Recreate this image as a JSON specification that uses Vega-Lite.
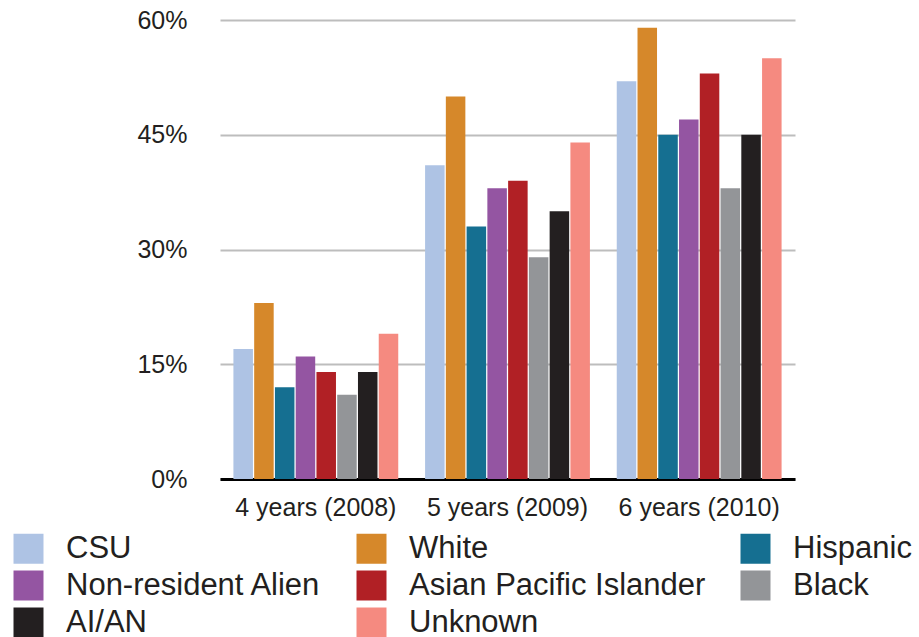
{
  "$schema": "https://vega.github.io/schema/vega-lite/v6.json",
  "width": 575,
  "height": 459,
  "autosize": {"type": "none"},
  "padding": {"left": 220, "top": 20, "right": 124, "bottom": 158},
  "background": "white",
  "config": {
    "view": {"stroke": null},
    "font": "Liberation Sans",
    "text": {"font": "Liberation Sans"}
  },
  "data": {
    "values": [
      {"period": "4 years (2008)", "group": "CSU", "value": 0.17},
      {"period": "4 years (2008)", "group": "White", "value": 0.23},
      {"period": "4 years (2008)", "group": "Hispanic", "value": 0.12},
      {"period": "4 years (2008)", "group": "Non-resident Alien", "value": 0.16},
      {"period": "4 years (2008)", "group": "Asian Pacific Islander", "value": 0.14},
      {"period": "4 years (2008)", "group": "Black", "value": 0.11},
      {"period": "4 years (2008)", "group": "AI/AN", "value": 0.14},
      {"period": "4 years (2008)", "group": "Unknown", "value": 0.19},
      {"period": "5 years (2009)", "group": "CSU", "value": 0.41},
      {"period": "5 years (2009)", "group": "White", "value": 0.50},
      {"period": "5 years (2009)", "group": "Hispanic", "value": 0.33},
      {"period": "5 years (2009)", "group": "Non-resident Alien", "value": 0.38},
      {"period": "5 years (2009)", "group": "Asian Pacific Islander", "value": 0.39},
      {"period": "5 years (2009)", "group": "Black", "value": 0.29},
      {"period": "5 years (2009)", "group": "AI/AN", "value": 0.35},
      {"period": "5 years (2009)", "group": "Unknown", "value": 0.44},
      {"period": "6 years (2010)", "group": "CSU", "value": 0.52},
      {"period": "6 years (2010)", "group": "White", "value": 0.59},
      {"period": "6 years (2010)", "group": "Hispanic", "value": 0.45},
      {"period": "6 years (2010)", "group": "Non-resident Alien", "value": 0.47},
      {"period": "6 years (2010)", "group": "Asian Pacific Islander", "value": 0.53},
      {"period": "6 years (2010)", "group": "Black", "value": 0.38},
      {"period": "6 years (2010)", "group": "AI/AN", "value": 0.45},
      {"period": "6 years (2010)", "group": "Unknown", "value": 0.55}
    ]
  },
  "mark": {"type": "bar"},
  "encoding": {
    "x": {
      "field": "period",
      "type": "nominal",
      "sort": null,
      "scale": {"paddingInner": 0.14, "paddingOuter": 0.07},
      "axis": {
        "title": null,
        "labelAngle": 0,
        "labelFont": "Liberation Sans",
        "labelFontSize": 25,
        "labelColor": "#231f20",
        "labelPadding": 16,
        "ticks": false,
        "tickSize": 0,
        "domain": true,
        "domainColor": "#000000",
        "domainWidth": 3,
        "grid": false
      }
    },
    "xOffset": {
      "field": "group",
      "type": "nominal",
      "sort": null,
      "scale": {"paddingInner": 0.06, "paddingOuter": 0}
    },
    "y": {
      "field": "value",
      "type": "quantitative",
      "scale": {"domain": [0, 0.6], "nice": false},
      "axis": {
        "title": null,
        "values": [0, 0.15, 0.3, 0.45, 0.6],
        "format": ".0%",
        "labelFont": "Liberation Sans",
        "labelFontSize": 25,
        "labelColor": "#231f20",
        "labelPadding": 33,
        "ticks": false,
        "tickSize": 0,
        "domain": false,
        "grid": true,
        "gridColor": "#bdbdbd",
        "gridWidth": 2
      }
    },
    "color": {
      "field": "group",
      "type": "nominal",
      "sort": null,
      "scale": {
        "domain": ["CSU", "White", "Hispanic", "Non-resident Alien", "Asian Pacific Islander", "Black", "AI/AN", "Unknown"],
        "range": ["#aec3e4", "#d6882a", "#156f91", "#9455a2", "#b12025", "#939598", "#231f20", "#f58a80"]
      },
      "legend": {
        "title": null,
        "orient": "none",
        "legendX": -207,
        "legendY": 513,
        "direction": "horizontal",
        "columns": 3,
        "columnPadding": 34,
        "rowPadding": 5,
        "symbolType": "square",
        "symbolSize": 900,
        "symbolStrokeWidth": 0,
        "symbolOpacity": 1,
        "labelFont": "Liberation Sans",
        "labelFontSize": 31,
        "labelColor": "#231f20",
        "labelOffset": 22,
        "labelLimit": 400,
        "padding": 0,
        "offset": 0
      }
    }
  }
}
